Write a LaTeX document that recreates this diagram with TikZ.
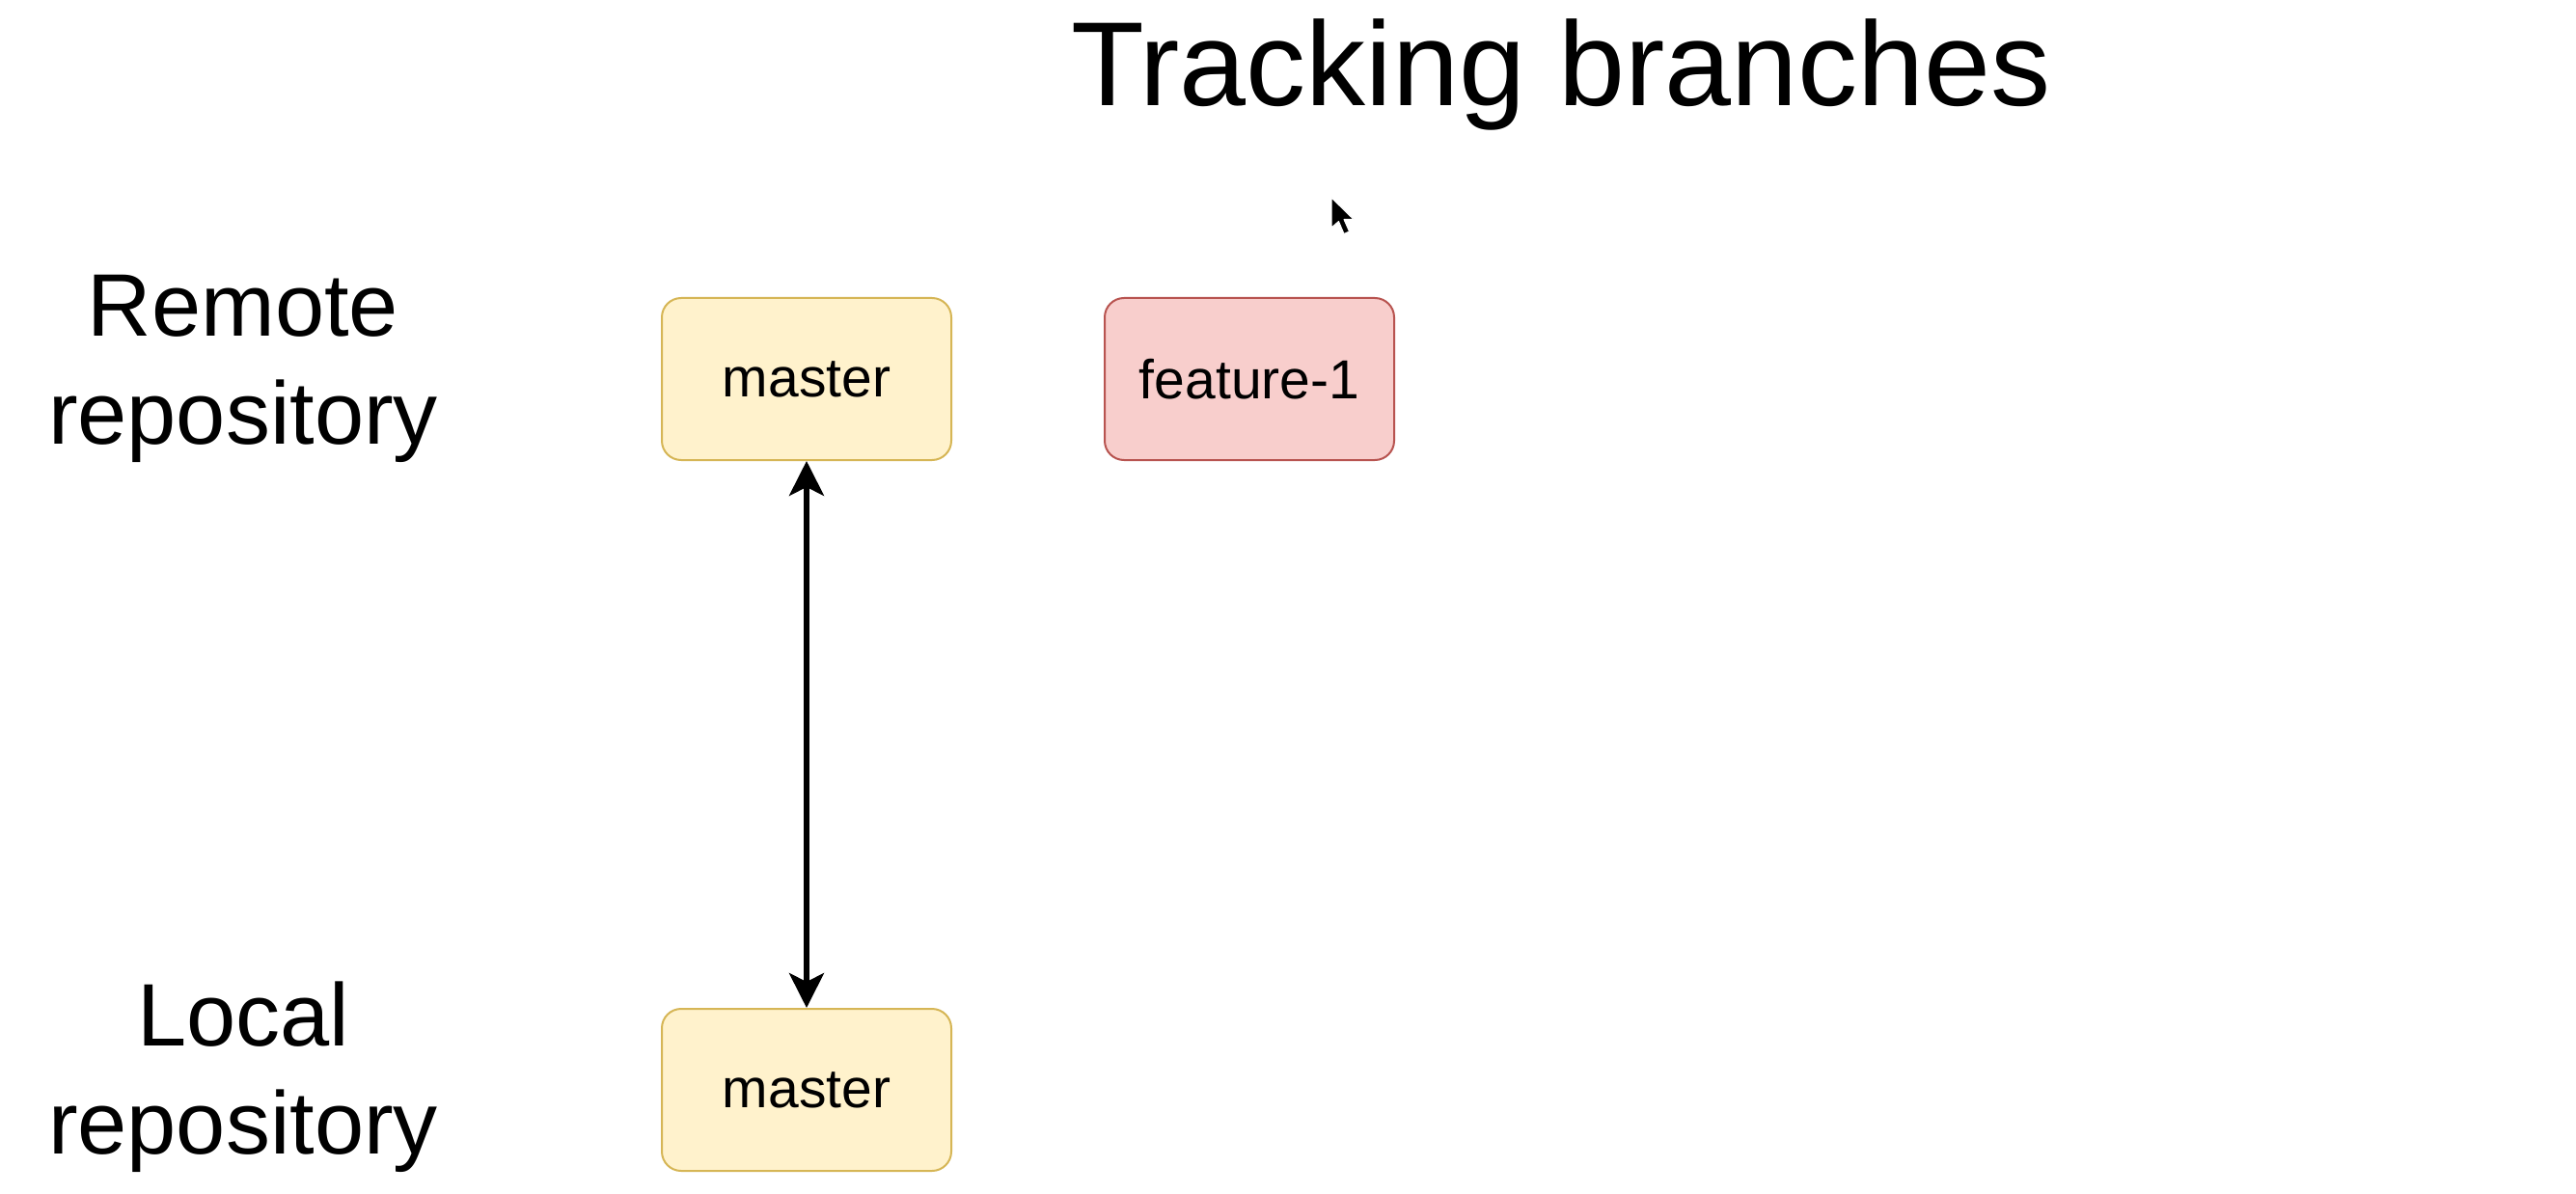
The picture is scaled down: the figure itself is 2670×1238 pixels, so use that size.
\documentclass[tikz,border=0pt]{standalone}
\usepackage{fontspec}
\setmainfont{Liberation Sans}
\usetikzlibrary{arrows.meta}
\definecolor{yfill}{HTML}{FFF2CC}
\definecolor{ydraw}{HTML}{D6B656}
\definecolor{rfill}{HTML}{F8CECC}
\definecolor{rdraw}{HTML}{B85450}
\tikzset{
  branchbox/.style={rounded corners=20pt, minimum width=300pt, minimum height=168pt,
    inner sep=0pt, line width=2pt, font=\fontsize{57}{68}\selectfont},
  yellowbox/.style={branchbox, fill=yfill, draw=ydraw},
  redbox/.style={branchbox, fill=rfill, draw=rdraw},
  sidelabel/.style={align=center, inner sep=0pt, font=\fontsize{92}{112}\selectfont},
  syncarrow/.style={line width=5.5pt, {Stealth[length=36pt,width=36pt,inset=9pt]}-{Stealth[length=36pt,width=36pt,inset=9pt]}}
}
\begin{document}
\begin{tikzpicture}[x=1pt,y=-1pt]
\fill[white] (0,0) rectangle (2670,1238);
\useasboundingbox (0,0) rectangle (2670,1238);
\node[anchor=base, inner sep=0pt, font=\fontsize{124}{150}\selectfont] (title) at (1618,110) {Tracking branches};
\node[sidelabel, anchor=center] (remoteLbl) at (252,382) {Remote\\repository};
\node[sidelabel, anchor=center] (localLbl) at (252,1117) {Local\\repository};
\node[yellowbox] (rmaster) at (836,393) {\raisebox{-3pt}{master}};
\node[redbox] (feature) at (1295,393) {\raisebox{-2pt}{feature-1}};
\node[yellowbox] (lmaster) at (836,1130) {\raisebox{-3pt}{master}};
\draw[syncarrow] (rmaster.south) -- (lmaster.north);
\coordinate (cursor) at (1380,205);
\filldraw[fill=black, draw=white, line width=1pt, line join=round]
  (cursor) -- ++(0,31) -- ++(7.5,-6.5) -- ++(5.5,13) -- ++(5.5,-2.5) -- ++(-5.5,-12.5) -- ++(10,0) -- cycle;
\end{tikzpicture}
\end{document}
